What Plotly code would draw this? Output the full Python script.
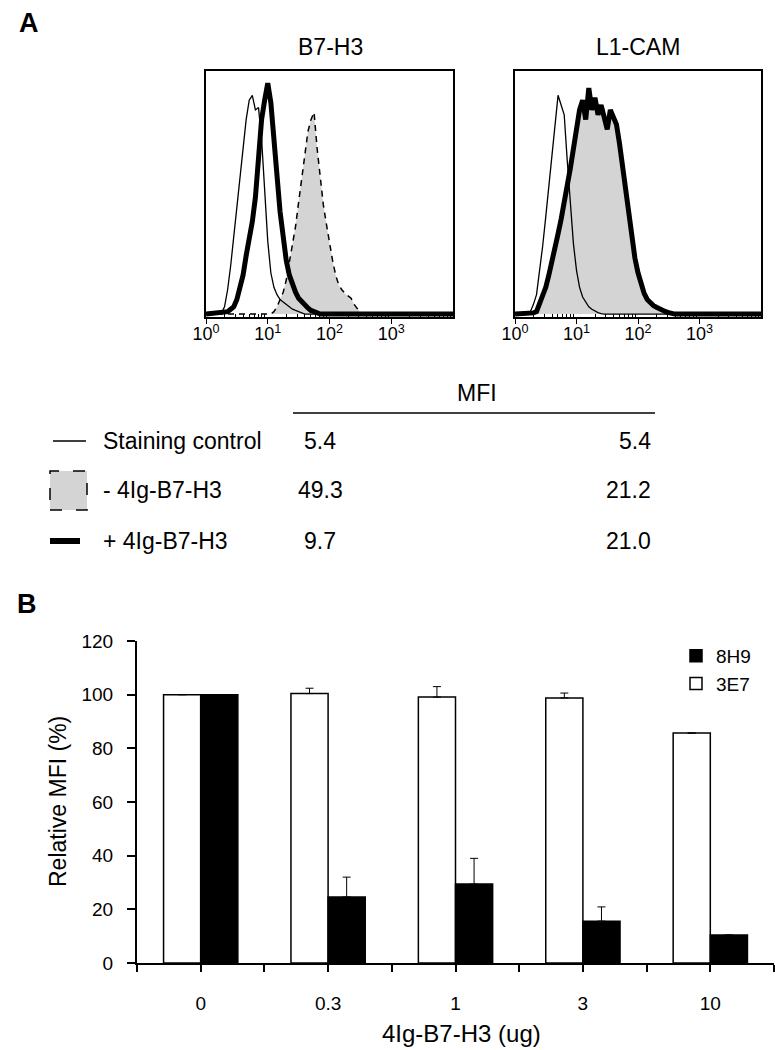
import plotly.graph_objects as go

W, H = 775, 1050


def px(x):
    return x / W


def py(y):
    return 1 - y / H


# ---------------- Panel A : flow histograms (log10 fluorescence, relative counts) ----------------
b7_ctrl_log = [0.00, 0.25, 0.30, 0.35, 0.40, 0.45, 0.50, 0.55, 0.60, 0.65, 0.70, 0.75, 0.80, 0.85,
               0.90, 0.95, 1.00, 1.05, 1.10, 1.15, 1.20, 1.25, 1.30, 1.35, 1.40, 1.45, 1.50, 1.55,
               1.60, 4.00]
b7_ctrl_val = [0, 0.005, 0.03, 0.10, 0.20, 0.32, 0.45, 0.58, 0.70, 0.80, 0.88, 0.90, 0.84, 0.85,
               0.72, 0.50, 0.30, 0.17, 0.11, 0.08, 0.06, 0.05, 0.04, 0.03, 0.02, 0.015, 0.01, 0.005,
               0, 0]

b7_plus_log = [0.00, 0.30, 0.35, 0.40, 0.45, 0.50, 0.55, 0.60, 0.65, 0.70, 0.75, 0.80, 0.85, 0.90,
               0.95, 1.00, 1.05, 1.10, 1.15, 1.20, 1.25, 1.30, 1.35, 1.40, 1.45, 1.50, 1.55, 1.60,
               1.65, 1.70, 1.75, 1.80, 1.85, 4.00]
b7_plus_val = [0, 0.005, 0.01, 0.02, 0.03, 0.06, 0.11, 0.16, 0.24, 0.30, 0.38, 0.48, 0.65, 0.80,
               0.88, 0.95, 0.87, 0.74, 0.57, 0.42, 0.31, 0.22, 0.16, 0.12, 0.09, 0.065, 0.05, 0.035,
               0.025, 0.015, 0.01, 0.005, 0, 0]

b7_minus_log = [0.00, 1.05, 1.10, 1.15, 1.20, 1.25, 1.30, 1.35, 1.40, 1.45, 1.50, 1.55, 1.60, 1.65,
                1.70, 1.75, 1.80, 1.85, 1.90, 1.95, 2.00, 2.05, 2.10, 2.15, 2.20, 2.25, 2.30, 2.35,
                2.40, 2.45, 2.50, 2.55, 4.00]
b7_minus_val = [0, 0, 0.01, 0.03, 0.06, 0.09, 0.14, 0.21, 0.28, 0.36, 0.46, 0.55, 0.66, 0.75,
                0.80, 0.83, 0.68, 0.55, 0.45, 0.37, 0.29, 0.22, 0.16, 0.12, 0.10, 0.085, 0.075, 0.065,
                0.04, 0.02, 0.005, 0, 0]

l1_ctrl_log = [0.00, 0.20, 0.25, 0.30, 0.35, 0.40, 0.45, 0.50, 0.55, 0.60, 0.65, 0.70, 0.75, 0.80,
               0.85, 0.90, 0.95, 1.00, 1.05, 1.10, 1.15, 1.20, 1.25, 1.30, 1.35, 1.40, 1.45, 4.00]
l1_ctrl_val = [0, 0, 0.01, 0.04, 0.08, 0.17, 0.28, 0.40, 0.53, 0.67, 0.79, 0.90, 0.86, 0.82,
               0.63, 0.44, 0.29, 0.18, 0.11, 0.07, 0.05, 0.03, 0.02, 0.012, 0.006, 0.002, 0, 0]

l1_log = [0.00, 0.25, 0.30, 0.35, 0.40, 0.45, 0.50, 0.55, 0.60, 0.65, 0.70, 0.75, 0.80, 0.85,
          0.90, 0.95, 1.00, 1.05, 1.10, 1.15, 1.20, 1.25, 1.30, 1.35, 1.40, 1.45, 1.50, 1.55,
          1.60, 1.65, 1.70, 1.75, 1.80, 1.85, 1.90, 1.95, 2.00, 2.05, 2.10, 2.15, 2.20, 2.25,
          2.30, 2.35, 2.40, 2.45, 2.50, 2.55, 2.60, 4.00]
l1_plus_val = [0, 0, 0.005, 0.01, 0.04, 0.07, 0.11, 0.16, 0.21, 0.27, 0.33, 0.39, 0.45, 0.53,
               0.60, 0.68, 0.76, 0.84, 0.88, 0.80, 0.93, 0.84, 0.89, 0.82, 0.86, 0.80, 0.76, 0.84,
               0.81, 0.78, 0.70, 0.60, 0.49, 0.40, 0.30, 0.23, 0.17, 0.12, 0.085, 0.06, 0.045, 0.035,
               0.028, 0.02, 0.015, 0.01, 0.006, 0.003, 0, 0]
l1_minus_val = [0, 0, 0.004, 0.01, 0.035, 0.065, 0.10, 0.15, 0.20, 0.26, 0.32, 0.38, 0.44, 0.52,
                0.59, 0.67, 0.75, 0.82, 0.86, 0.83, 0.90, 0.86, 0.87, 0.84, 0.85, 0.82, 0.79, 0.82,
                0.80, 0.77, 0.69, 0.59, 0.48, 0.39, 0.29, 0.22, 0.16, 0.115, 0.08, 0.058, 0.043, 0.033,
                0.026, 0.019, 0.014, 0.009, 0.005, 0.002, 0, 0]

hist_titles = ["B7-H3", "L1-CAM"]
decade_ticks = [1, 10, 100, 1000]
decade_text = ["10<sup>0</sup>", "10<sup>1</sup>", "10<sup>2</sup>", "10<sup>3</sup>"]

# MFI table
mfi_rows = ["Staining control", "- 4Ig-B7-H3", "+ 4Ig-B7-H3"]
mfi_b7h3 = ["5.4", "49.3", "9.7"]
mfi_l1cam = ["5.4", "21.2", "21.0"]

# ---------------- Panel B : bar chart ----------------
doses = ["0", "0.3", "1", "3", "10"]
mfi_3e7 = [100, 100.4, 99.1, 98.8, 85.7]
err_3e7 = [0, 2.0, 3.9, 1.8, 0]
mfi_8h9 = [100, 24.6, 29.4, 15.6, 10.4]
err_8h9 = [0, 7.4, 9.6, 5.3, 0]

for a, b in [(b7_ctrl_log, b7_ctrl_val), (b7_plus_log, b7_plus_val), (b7_minus_log, b7_minus_val),
             (l1_ctrl_log, l1_ctrl_val), (l1_log, l1_plus_val), (l1_log, l1_minus_val)]:
    assert len(a) == len(b)


def fl(logs):
    return [10 ** v for v in logs]


fig = go.Figure()

THIN = 1.3
THICK = 5
GRAY = "#d4d4d4"

# --- B7-H3 histogram
fig.add_trace(go.Scatter(x=fl(b7_minus_log), y=b7_minus_val, mode="lines", fill="tozeroy",
                         fillcolor=GRAY, line=dict(color="black", width=1.5, dash="6px,5px"),
                         xaxis="x", yaxis="y", showlegend=False, name="- 4Ig-B7-H3"))
fig.add_trace(go.Scatter(x=fl(b7_ctrl_log), y=b7_ctrl_val, mode="lines",
                         line=dict(color="black", width=THIN),
                         xaxis="x", yaxis="y", showlegend=False, name="Staining control"))
fig.add_trace(go.Scatter(x=fl(b7_plus_log), y=b7_plus_val, mode="lines",
                         line=dict(color="black", width=THICK),
                         xaxis="x", yaxis="y", showlegend=False, name="+ 4Ig-B7-H3"))

# --- L1-CAM histogram
fig.add_trace(go.Scatter(x=fl(l1_log), y=l1_minus_val, mode="lines", fill="tozeroy",
                         fillcolor=GRAY, line=dict(color="black", width=1.5, dash="6px,5px"),
                         xaxis="x2", yaxis="y2", showlegend=False, name="- 4Ig-B7-H3"))
fig.add_trace(go.Scatter(x=fl(l1_ctrl_log), y=l1_ctrl_val, mode="lines",
                         line=dict(color="black", width=THIN),
                         xaxis="x2", yaxis="y2", showlegend=False, name="Staining control"))
fig.add_trace(go.Scatter(x=fl(l1_log), y=l1_plus_val, mode="lines",
                         line=dict(color="black", width=THICK),
                         xaxis="x2", yaxis="y2", showlegend=False, name="+ 4Ig-B7-H3"))

# --- bar chart
xpos = list(range(len(doses)))
fig.add_trace(go.Bar(x=xpos, y=mfi_3e7, name="3E7", legendrank=2,
                     marker=dict(color="white", line=dict(color="black", width=1.5)),
                     error_y=dict(type="data", symmetric=False, array=err_3e7,
                                  arrayminus=[0] * len(doses), color="black", thickness=1, width=4),
                     xaxis="x3", yaxis="y3"))
fig.add_trace(go.Bar(x=xpos, y=mfi_8h9, name="8H9", legendrank=1,
                     marker=dict(color="black", line=dict(color="black", width=1.5)),
                     error_y=dict(type="data", symmetric=False, array=err_8h9,
                                  arrayminus=[0] * len(doses), color="black", thickness=1, width=4),
                     xaxis="x3", yaxis="y3"))

minor_vals = [m * d for d in decade_ticks for m in range(2, 10)]

hist_x = dict(type="log", range=[0, 4], showline=True, mirror=True, linecolor="black", linewidth=1.5,
              tickmode="array", tickvals=decade_ticks, ticktext=decade_text, ticks="outside", ticklen=5,
              tickcolor="black", tickfont=dict(size=18), showgrid=False, zeroline=False,
              automargin=False, ticklabelstandoff=-5,
              minor=dict(tickvals=minor_vals, ticks="inside", ticklen=3, tickcolor="black",
                         showgrid=False))
hist_y = dict(range=[-0.012, 1.0], showline=True, mirror=True, linecolor="black", linewidth=1.5,
              showticklabels=False, ticks="", showgrid=False, zeroline=False, automargin=False)

boundary_vals = [i - 0.5 for i in range(len(doses) + 1)]

fig.update_layout(
    width=W, height=H, margin=dict(l=0, r=0, t=0, b=0, pad=0, autoexpand=False),
    paper_bgcolor="white", plot_bgcolor="white",
    font=dict(family="Liberation Sans, Arial, sans-serif", color="black", size=18),
    xaxis=dict(hist_x, domain=[px(206), px(453)], anchor="y"),
    yaxis=dict(hist_y, domain=[py(317), py(71)], anchor="x"),
    xaxis2=dict(hist_x, domain=[px(515), px(761)], anchor="y2"),
    yaxis2=dict(hist_y, domain=[py(317), py(71)], anchor="x2"),
    xaxis3=dict(domain=[px(137), px(774)], anchor="y3", range=[-0.5, len(doses) - 0.5],
                tickmode="array", tickvals=xpos, ticktext=doses,
                ticks="outside", ticklen=7, tickwidth=1.5, tickcolor="black",
                minor=dict(tickvals=boundary_vals, ticks="outside", ticklen=7, tickwidth=1.5,
                           tickcolor="black", showgrid=False),
                showline=True, linecolor="black", linewidth=2, tickfont=dict(size=19),
                ticklabelstandoff=15, showgrid=False, zeroline=False, automargin=False),
    yaxis3=dict(domain=[py(963), py(641)], anchor="x3", range=[0, 120], tickmode="linear",
                tick0=0, dtick=20, ticks="outside", ticklen=8, tickwidth=1.5, tickcolor="black",
                showline=True, linecolor="black", linewidth=2, tickfont=dict(size=19),
                ticklabelstandoff=10, showgrid=False, zeroline=False, automargin=False),
    barmode="group", bargap=0.417, bargroupgap=0,
    showlegend=True,
    legend=dict(x=px(676), y=py(637), xanchor="left", yanchor="top", traceorder="normal",
                font=dict(size=19), bgcolor="rgba(0,0,0,0)", tracegroupgap=10),
)

ann = []


def txt(x, y, s, size=23, xanchor="center", bold=False, angle=0):
    ann.append(dict(x=px(x), y=py(y), xref="paper", yref="paper", text=("<b>%s</b>" % s) if bold else s,
                    showarrow=False, xanchor=xanchor, yanchor="middle", textangle=angle,
                    font=dict(size=size)))


txt(29, 23, "A", size=27, bold=True)
txt(27, 604, "B", size=27, bold=True)
txt(330, 47, hist_titles[0])
txt(638, 47, hist_titles[1])
txt(477, 393, "MFI")
row_y = [441, 490, 541]
for i, r in enumerate(mfi_rows):
    txt(101, row_y[i], r, xanchor="left")
    txt(320, row_y[i], mfi_b7h3[i])
    txt(653, row_y[i], mfi_l1cam[i], xanchor="right")
txt(462, 1033, "4Ig-B7-H3 (ug)", size=24)
txt(58, 802, "Relative MFI (%)", size=23, angle=-90)

shapes = [
    dict(type="line", xref="paper", yref="paper", x0=px(293), x1=px(655), y0=py(413), y1=py(413),
         line=dict(color="black", width=1.5)),
    dict(type="line", xref="paper", yref="paper", x0=px(53), x1=px(86), y0=py(441), y1=py(441),
         line=dict(color="black", width=1.5)),
    dict(type="rect", xref="paper", yref="paper", x0=px(50), x1=px(87), y0=py(510), y1=py(471),
         fillcolor=GRAY, line=dict(color="black", width=1.5, dash="12px,14px")),
    dict(type="line", xref="paper", yref="paper", x0=px(50), x1=px(80), y0=py(541), y1=py(541),
         line=dict(color="black", width=6)),
]

fig.update_layout(annotations=ann, shapes=shapes)

fig.write_html("out.html", config={"displayModeBar": False},
               post_script="document.body.style.margin='0';document.body.style.overflow='hidden';")
